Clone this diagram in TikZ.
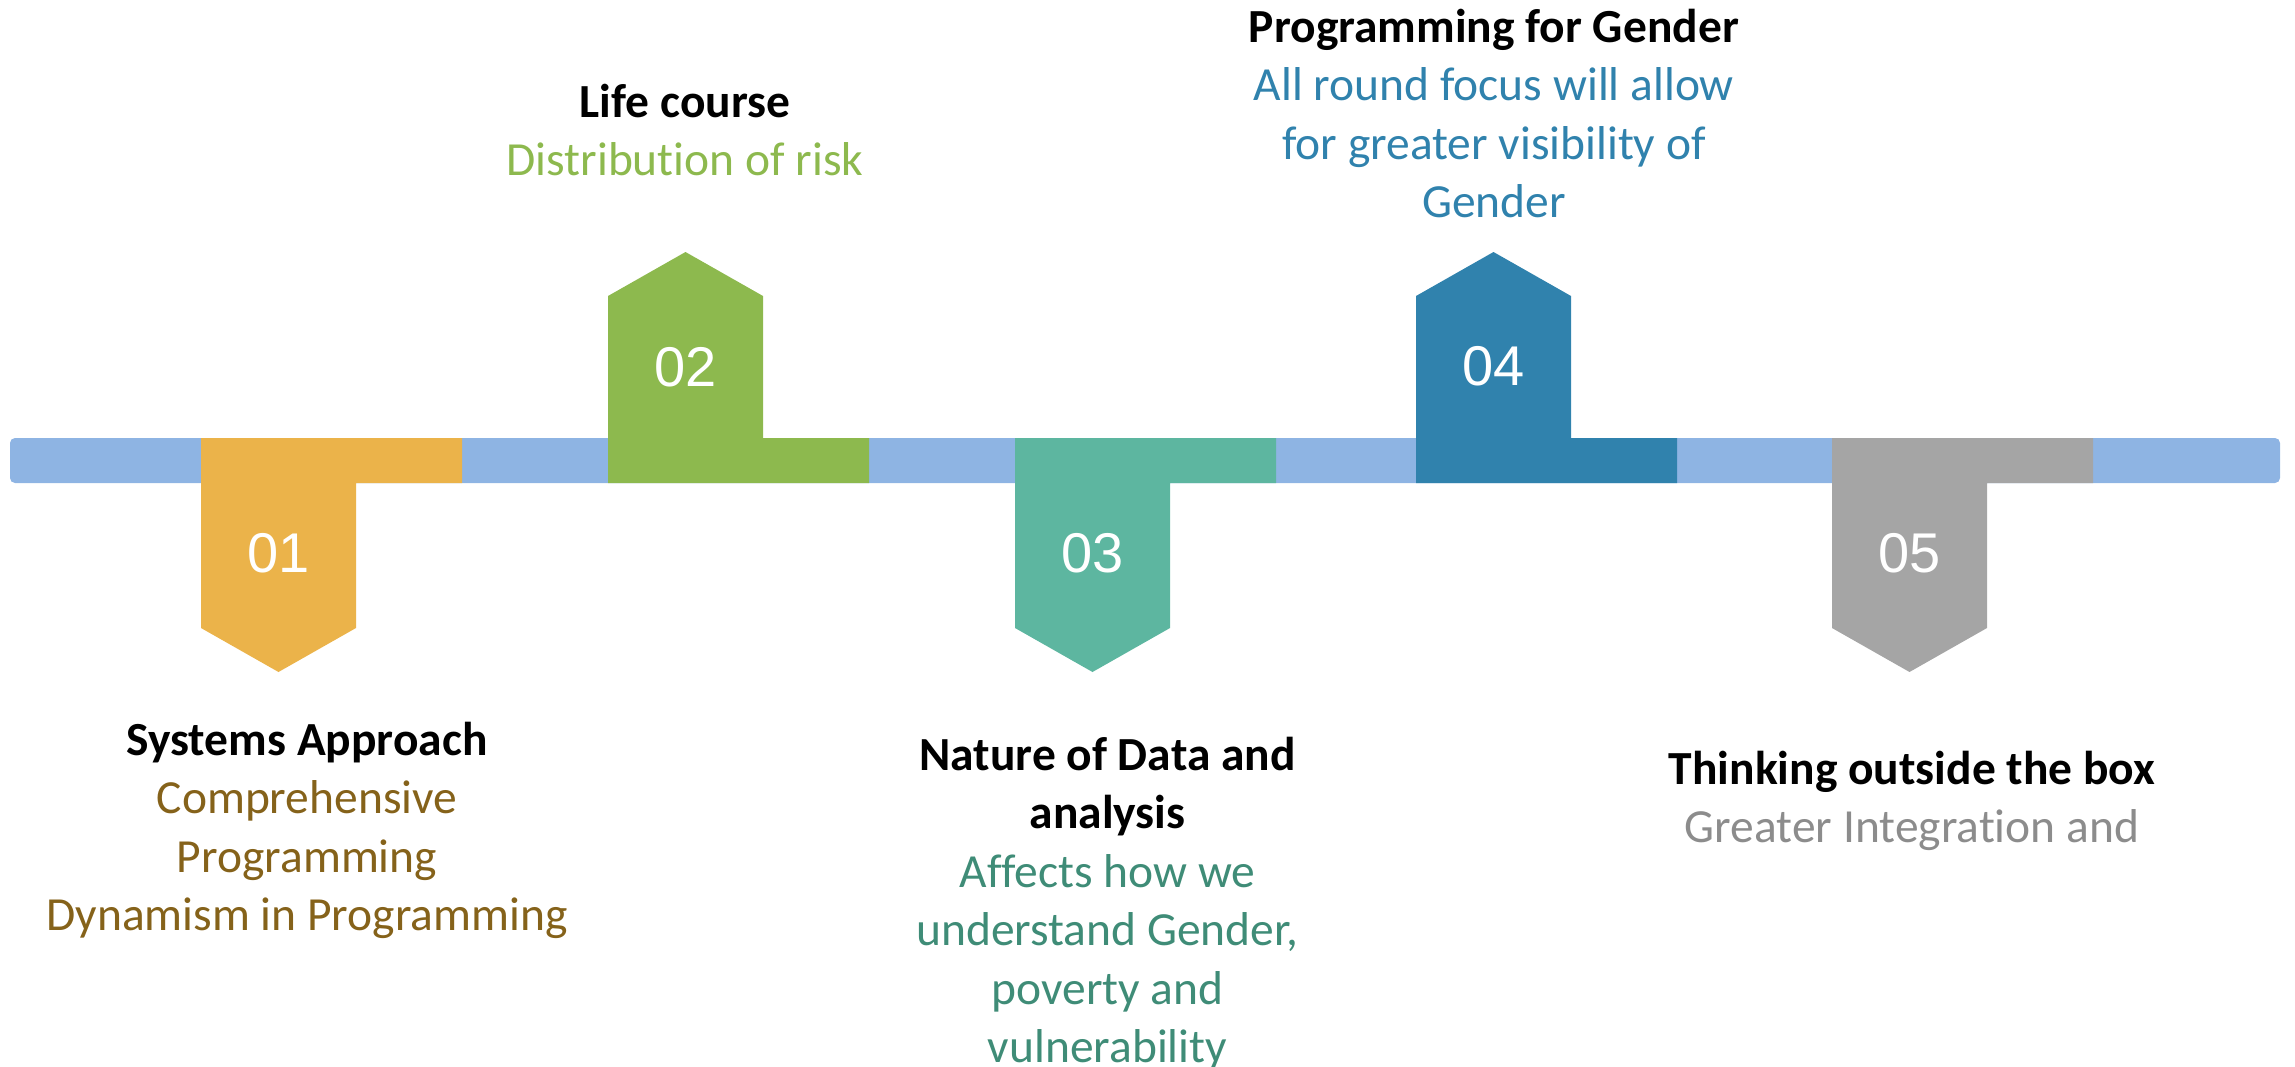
\documentclass[tikz,border=0pt]{standalone}
\usepackage{fontspec}
\setmainfont{Carlito}[Ligatures=NoCommon]
\newfontfamily\numfont{Liberation Sans}
\definecolor{barblue}{HTML}{8EB4E3}
\definecolor{corange}{HTML}{EBB34A}
\definecolor{cgreen}{HTML}{8DB94E}
\definecolor{cteal}{HTML}{5DB6A0}
\definecolor{cblue}{HTML}{3082AD}
\definecolor{cgray}{HTML}{A5A5A5}
\definecolor{tbrown}{HTML}{85621A}
\definecolor{tteal}{HTML}{3F8C77}
\definecolor{tgray}{HTML}{8C8C8C}
\begin{document}
\begin{tikzpicture}[x=1pt,y=-1pt,
  downflag/.pic={\fill (0,0) -- (261,0) -- (261,45) -- (155,45) -- (155,190) -- (77.5,234) -- (0,190) -- cycle;},
  upflag/.pic={\fill (0,0) -- (261,0) -- (261,-45) -- (155,-45) -- (155,-187) -- (77.5,-231) -- (0,-187) -- cycle;},
  num/.style={font=\numfont\fontsize{56}{60}\selectfont, text=white, inner sep=0pt, anchor=center},
  txt/.style={font=\fontsize{47.5}{58.5}\selectfont, inner sep=0pt, anchor=base}]
\useasboundingbox (0,0) rectangle (2295,1066);
% timeline bar
\fill[barblue, rounded corners=5pt] (10,438) rectangle (2280,483);
% flags
\pic[fill=corange] at (201,438) {downflag};
\pic[fill=cgreen] at (608,483) {upflag};
\pic[fill=cteal] at (1015,438) {downflag};
\pic[fill=cblue] at (1416,483) {upflag};
\pic[fill=cgray] at (1832,438) {downflag};
% numbers
\node[num] (n1) at (278.5,553) {01};
\node[num] (n2) at (685.5,367) {02};
\node[num] (n3) at (1092.5,553) {03};
\node[num] (n4) at (1493.5,366) {04};
\node[num] (n5) at (1909.5,553) {05};
% texts
\node[txt] (t1) at (307,755) {\begin{tabular}[t]{@{}c@{}}\textbf{Systems Approach}\\
  \textcolor{tbrown}{Comprehensive}\\ \textcolor{tbrown}{Programming}\\ \textcolor{tbrown}{Dynamism in Programming}\end{tabular}};
\node[txt] (t2) at (685,117) {\begin{tabular}[t]{@{}c@{}}\textbf{Life course}\\
  \textcolor{cgreen}{Distribution of risk}\end{tabular}};
\node[txt] (t3) at (1107.5,770) {\begin{tabular}[t]{@{}c@{}}\textbf{Nature of Data and}\\ \textbf{analysis}\\
  \textcolor{tteal}{Affects how we}\\ \textcolor{tteal}{understand Gender,}\\ \textcolor{tteal}{poverty and}\\ \textcolor{tteal}{vulnerability}\end{tabular}};
\node[txt] (t4) at (1494,42) {\begin{tabular}[t]{@{}c@{}}\textbf{Programming for Gender}\\
  \textcolor{cblue}{All round focus will allow}\\ \textcolor{cblue}{for greater visibility of}\\ \textcolor{cblue}{Gender}\end{tabular}};
\node[txt] (t5) at (1912,784) {\begin{tabular}[t]{@{}c@{}}\textbf{Thinking outside the box}\\
  \textcolor{tgray}{Greater Integration and}\end{tabular}};
\end{tikzpicture}
\end{document}
